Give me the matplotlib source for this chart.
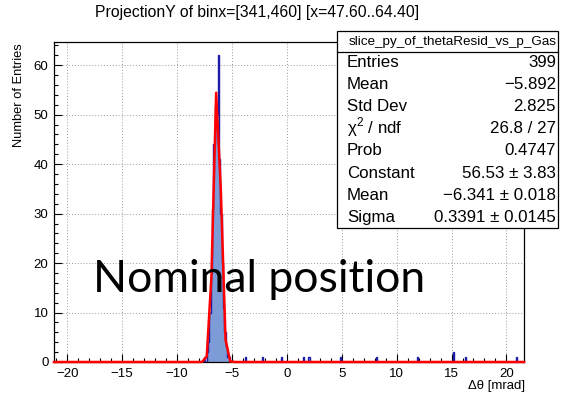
import numpy as np
import matplotlib
matplotlib.use("Agg")
import matplotlib.pyplot as plt
from matplotlib.patches import Rectangle
from matplotlib.ticker import MultipleLocator

plt.rcParams['font.family'] = ['Liberation Sans', 'DejaVu Sans']
plt.rcParams['mathtext.fontset'] = 'custom'
plt.rcParams['mathtext.rm'] = 'Liberation Sans'
plt.rcParams['axes.unicode_minus'] = True

# histogram axis: 342 bins between -21.2 and 21.6 mrad
x_lo, x_hi, n_bins = -21.2, 21.6, 342

# entries in the main peak (bin centre, count)
peak_x = [-7.50, -7.37, -7.25, -7.12, -7.00, -6.87, -6.75, -6.62, -6.50, -6.37,
          -6.25, -6.12, -6.00, -5.87, -5.75, -5.62, -5.50, -5.37, -5.25]
peak_n = [1, 0, 2, 4, 10, 18, 31, 44, 52, 50,
          62, 41, 30, 20, 11, 6, 3, 1, 1]

# scattered entries away from the peak
tail_x = [-3.68, -2.22, -0.45, 1.57, 1.97, 4.94, 8.18, 11.9, 15.2, 16.3, 20.9]
tail_n = [1, 1, 1, 1, 1, 1, 1, 1, 2, 1, 1]

# gaus fit result
fit_const, fit_mean, fit_sigma = 56.53, -6.341, 0.3391

stats_rows = [
    ("Entries", "399"),
    ("Mean", "\u22125.892"),
    ("Std Dev", "2.825"),
    ("\u03c7$^2$ / ndf", "26.8 / 27"),
    ("Prob", "0.4747"),
    ("Constant", "56.53 \u00b1 3.83"),
    ("Mean", "\u22126.341 \u00b1 0.018"),
    ("Sigma", "0.3391 \u00b1 0.0145"),
]

edges = np.linspace(x_lo, x_hi, n_bins + 1)
counts, _ = np.histogram(peak_x + tail_x, bins=edges, weights=peak_n + tail_n)

W, H = 577, 396
fig = plt.figure(figsize=(W / 100, H / 100), dpi=100)
ax = fig.add_axes([54 / W, 1 - 362 / H, 470 / W, 320 / H])

ax.set_xlim(x_lo, x_hi)
ax.set_ylim(0, 64.7)

ax.xaxis.set_major_locator(MultipleLocator(5))
ax.xaxis.set_minor_locator(MultipleLocator(1))
ax.yaxis.set_major_locator(MultipleLocator(10))
ax.yaxis.set_minor_locator(MultipleLocator(2))
ax.tick_params(which='both', direction='in', top=False, right=False,
               labelsize=9.5, pad=4)
ax.tick_params(which='major', length=6, width=0.8)
ax.tick_params(which='minor', length=3, width=0.8)
ax.grid(True, which='major', linestyle=(0, (1, 2)), color='#999999', linewidth=0.7)
ax.set_axisbelow(True)
for sp in ax.spines.values():
    sp.set_linewidth(0.9)

ax.stairs(counts, edges, fill=True, color='#7d9bd6', zorder=2)
ax.stairs(counts, edges, color='#1c1ca8', linewidth=1.0, zorder=3)

# fit function drawn the way ROOT does: 100 points at sub-bin centres
npx = 100
dx = (x_hi - x_lo) / npx
fx = x_lo + (np.arange(npx) + 0.5) * dx
fx = np.concatenate([[x_lo], fx, [x_hi]])
fy = fit_const * np.exp(-0.5 * ((fx - fit_mean) / fit_sigma) ** 2)
ax.plot(fx, fy, color='#ff0000', linewidth=1.8, zorder=4, clip_on=False)

# titles
fig.text(257 / W, 1 - 12 / H, "ProjectionY of binx=[341,460] [x=47.60..64.40]",
         ha='center', va='center', fontsize=11.3)
fig.text(19 / W, 1 - 43 / H, "Number of Entries", rotation=90,
         ha='center', va='top', fontsize=9.3)
fig.text(525 / W, 1 - 388.5 / H, "\u0394\u03b8 [mrad]",
         ha='right', va='baseline', fontsize=9.5)

# stats box
bx0, bx1, by0, by1, bsep = 336.7, 558, 31, 228, 52
fig.patches.append(Rectangle((bx0 / W, 1 - by1 / H), (bx1 - bx0) / W, (by1 - by0) / H,
                             transform=fig.transFigure, facecolor='white',
                             edgecolor='black', linewidth=0.9, zorder=10))
fig.add_artist(plt.Line2D([bx0 / W, bx1 / W], [1 - bsep / H, 1 - bsep / H],
                          transform=fig.transFigure, color='black', linewidth=0.9,
                          zorder=11))
fig.text(453 / W, 1 - 41.5 / H, "slice_py_of_thetaResid_vs_p_Gas",
         ha='center', va='center', fontsize=9.7, zorder=12)
for i, (lab, val) in enumerate(stats_rows):
    yb = 1 - (66.8 + 22.15 * i) / H
    fig.text(347 / W, yb, lab, ha='left', va='baseline', fontsize=12.2, zorder=12)
    fig.text(556 / W, yb, val, ha='right', va='baseline', fontsize=12.2, zorder=12)

# annotation
fig.text(93 / W, 1 - 292 / H, "Nominal position", family=['Lato', 'DejaVu Sans'],
         ha='left', va='baseline', fontsize=32, zorder=12)

fig.savefig("out.png", dpi=100)
